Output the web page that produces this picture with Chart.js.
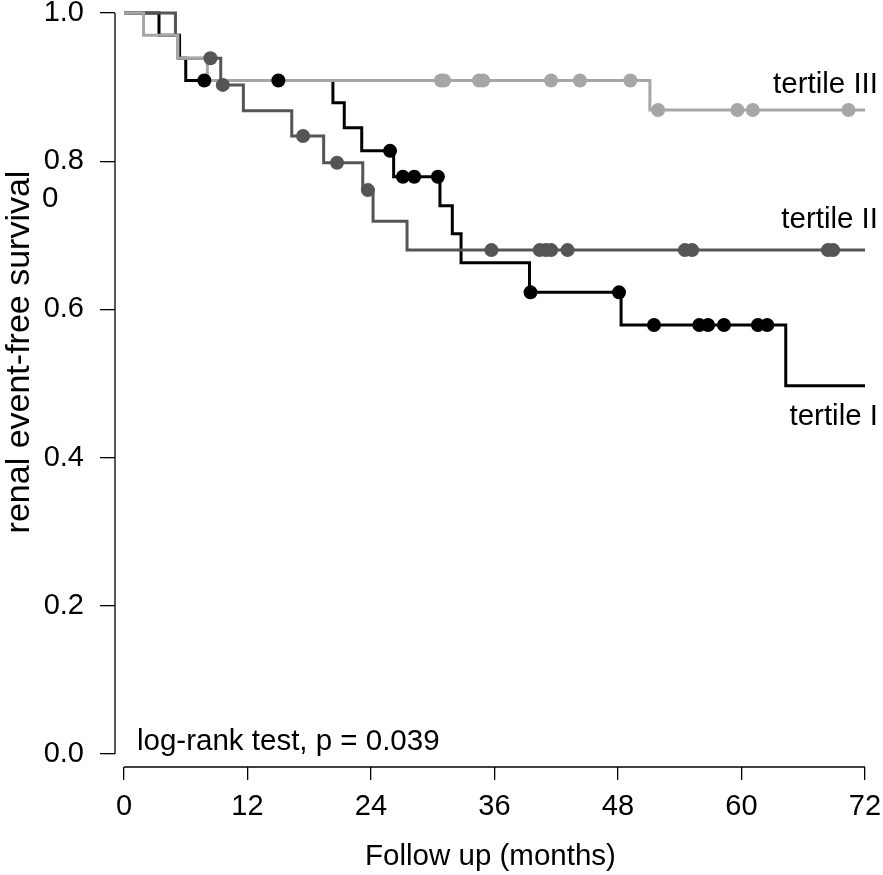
<!DOCTYPE html>
<html><head><meta charset="utf-8">
<script src="https://cdn.jsdelivr.net/npm/chart.js@4.4.1/dist/chart.umd.min.js"></script>
<style>html,body{margin:0;padding:0;background:#fff;}</style>
</head><body>
<canvas id="c" width="883" height="875" style="display:block;width:883px;height:875px"></canvas>
<script>
// ---- data ----
const xTicks = [0, 12, 24, 36, 48, 60, 72];
const yTicks = [0, 0.2, 0.4, 0.6, 0.8, 1.0];
const seriesNames = ['tertile I', 'tertile II', 'tertile III'];

// Kaplan-Meier steps: time (months) and survival after the step
const t1Times = [0, 3.4, 5.4, 6.0, 20.3, 21.4, 23.1, 26.2, 30.7, 31.9, 32.75, 39.4, 48.3, 64.3, 72];
const t1Surv  = [1.0, 0.970, 0.939, 0.909, 0.879, 0.845, 0.814, 0.779, 0.740, 0.702, 0.663, 0.623, 0.579, 0.497, 0.497];
const t1Censor = [7.8, 15.0, 25.85, 27.1, 28.2, 30.5, 39.5, 48.1, 51.5, 55.9, 56.75, 58.3, 61.6, 62.5];

const t2Times = [0, 5.0, 5.3, 9.4, 11.6, 16.3, 19.4, 23.2, 24.2, 27.5, 72];
const t2Surv  = [1.0, 0.970, 0.939, 0.903, 0.868, 0.834, 0.798, 0.761, 0.719, 0.680, 0.680];
const t2Censor = [8.4, 9.6, 17.4, 20.7, 23.7, 35.7, 40.4, 41.0, 41.5, 43.1, 54.5, 55.2, 68.4, 68.9];

const t3Times = [0, 1.9, 5.2, 8.1, 51.1, 72];
const t3Surv  = [1.0, 0.970, 0.939, 0.909, 0.869, 0.869];
const t3Censor = [30.8, 31.1, 34.5, 34.9, 41.5, 44.3, 49.2, 51.9, 59.6, 61.1, 70.4];

const pValueText = 'log-rank test, p = 0.039';
const xTitle = 'Follow up (months)';
const yTitle = 'renal event-free survival';

// ---- helpers ----
const colors = ['#000000', '#555555', '#a6a6a6'];
function stepPoints(times, surv) { return times.map((t, i) => ({x: t, y: surv[i]})); }
function survAt(times, surv, t) {
  let s = surv[0];
  for (let i = 0; i < times.length; i++) { if (times[i] <= t) s = surv[i]; }
  return s;
}
function censorPoints(times, surv, cens) { return cens.map(t => ({x: t, y: survAt(times, surv, t)})); }

const FONT = "'Liberation Sans', Arial, Helvetica, sans-serif";

const lineDs = (label, times, surv, c, order) => ({
  label, data: stepPoints(times, surv), borderColor: c, backgroundColor: c,
  borderWidth: 3, stepped: true, pointRadius: 0, showLine: true, fill: false, clip: false, order
});
const censDs = (label, times, surv, cens, c, order) => ({
  label: label + ' censored', data: censorPoints(times, surv, cens), borderColor: c, backgroundColor: c,
  borderWidth: 0, pointRadius: 7, pointHoverRadius: 7, showLine: false, clip: false, order
});

const deco = {
  id: 'deco',
  beforeDatasetsDraw(chart) {
    const {ctx, chartArea, scales: {x, y}} = chart;
    ctx.save();
    ctx.strokeStyle = '#000';
    ctx.lineWidth = 1.3;
    ctx.beginPath();
    ctx.moveTo(chartArea.left, y.getPixelForValue(yTicks[0]));
    ctx.lineTo(chartArea.left, y.getPixelForValue(yTicks[yTicks.length - 1]));
    ctx.stroke();
    ctx.beginPath();
    ctx.moveTo(x.getPixelForValue(xTicks[0]), chartArea.bottom);
    ctx.lineTo(x.getPixelForValue(xTicks[xTicks.length - 1]), chartArea.bottom);
    ctx.stroke();
    ctx.restore();
  },
  afterDraw(chart) {
    const {ctx} = chart;
    ctx.save();
    ctx.fillStyle = '#000';
    ctx.font = '29.5px ' + FONT;
    ctx.textBaseline = 'alphabetic';
    ctx.textAlign = 'right';
    ctx.fillText(seriesNames[2], 878, 93);
    ctx.fillText(seriesNames[1], 878, 228);
    ctx.fillText(seriesNames[0], 878, 425);
    ctx.textAlign = 'left';
    ctx.fillText(pValueText, 137, 750);
    ctx.fillText('0', 42, 207);
    ctx.font = '34px ' + FONT;
    ctx.translate(29, 352);
    ctx.rotate(-Math.PI / 2);
    ctx.textAlign = 'center';
    ctx.fillText(yTitle, 0, 0);
    ctx.restore();
  }
};

new Chart(document.getElementById('c'), {
  type: 'scatter',
  data: {
    datasets: [
      censDs(seriesNames[2], t3Times, t3Surv, t3Censor, colors[2], 0),
      censDs(seriesNames[1], t2Times, t2Surv, t2Censor, colors[1], 1),
      censDs(seriesNames[0], t1Times, t1Surv, t1Censor, colors[0], 2),
      lineDs(seriesNames[2], t3Times, t3Surv, colors[2], 3),
      lineDs(seriesNames[1], t2Times, t2Surv, colors[1], 4),
      lineDs(seriesNames[0], t1Times, t1Surv, colors[0], 5)
    ]
  },
  options: {
    responsive: false,
    animation: false,
    events: [],
    layout: {padding: {left: 0, right: 17, top: 13, bottom: 0}, autoPadding: false},
    plugins: {legend: {display: false}, tooltip: {enabled: false}},
    scales: {
      x: {
        type: 'linear', min: -0.8745, max: 72.097,
        afterBuildTicks: s => { s.ticks = xTicks.map(v => ({value: v})); },
        afterFit: s => { s.height = 108; s.paddingLeft = 0; s.paddingRight = 0; s.paddingTop = 0; s.paddingBottom = 0; },
        border: {display: false},
        grid: {drawOnChartArea: false, drawTicks: true, tickLength: 13, color: '#000', lineWidth: 1.3},
        ticks: {color: '#000', font: {family: FONT, size: 29}, padding: 10, maxRotation: 0, autoSkip: false,
                callback: v => String(v)},
        title: {display: true, text: xTitle, color: '#000', font: {family: FONT, size: 29.5}, padding: {top: 0, bottom: 0}}
      },
      y: {
        type: 'linear', min: -0.01754, max: 1.0,
        afterBuildTicks: s => { s.ticks = yTicks.map(v => ({value: v})); },
        afterFit: s => { s.width = 115; s.paddingLeft = 0; s.paddingRight = 0; s.paddingTop = 0; s.paddingBottom = 0; },
        border: {display: false},
        grid: {drawOnChartArea: false, drawTicks: true, tickLength: 15, color: '#000', lineWidth: 1.3},
        ticks: {color: '#000', font: {family: FONT, size: 29}, padding: 16, autoSkip: false,
                callback: v => v.toFixed(1)}
      }
    }
  },
  plugins: [deco]
});
</script>
</body></html>
